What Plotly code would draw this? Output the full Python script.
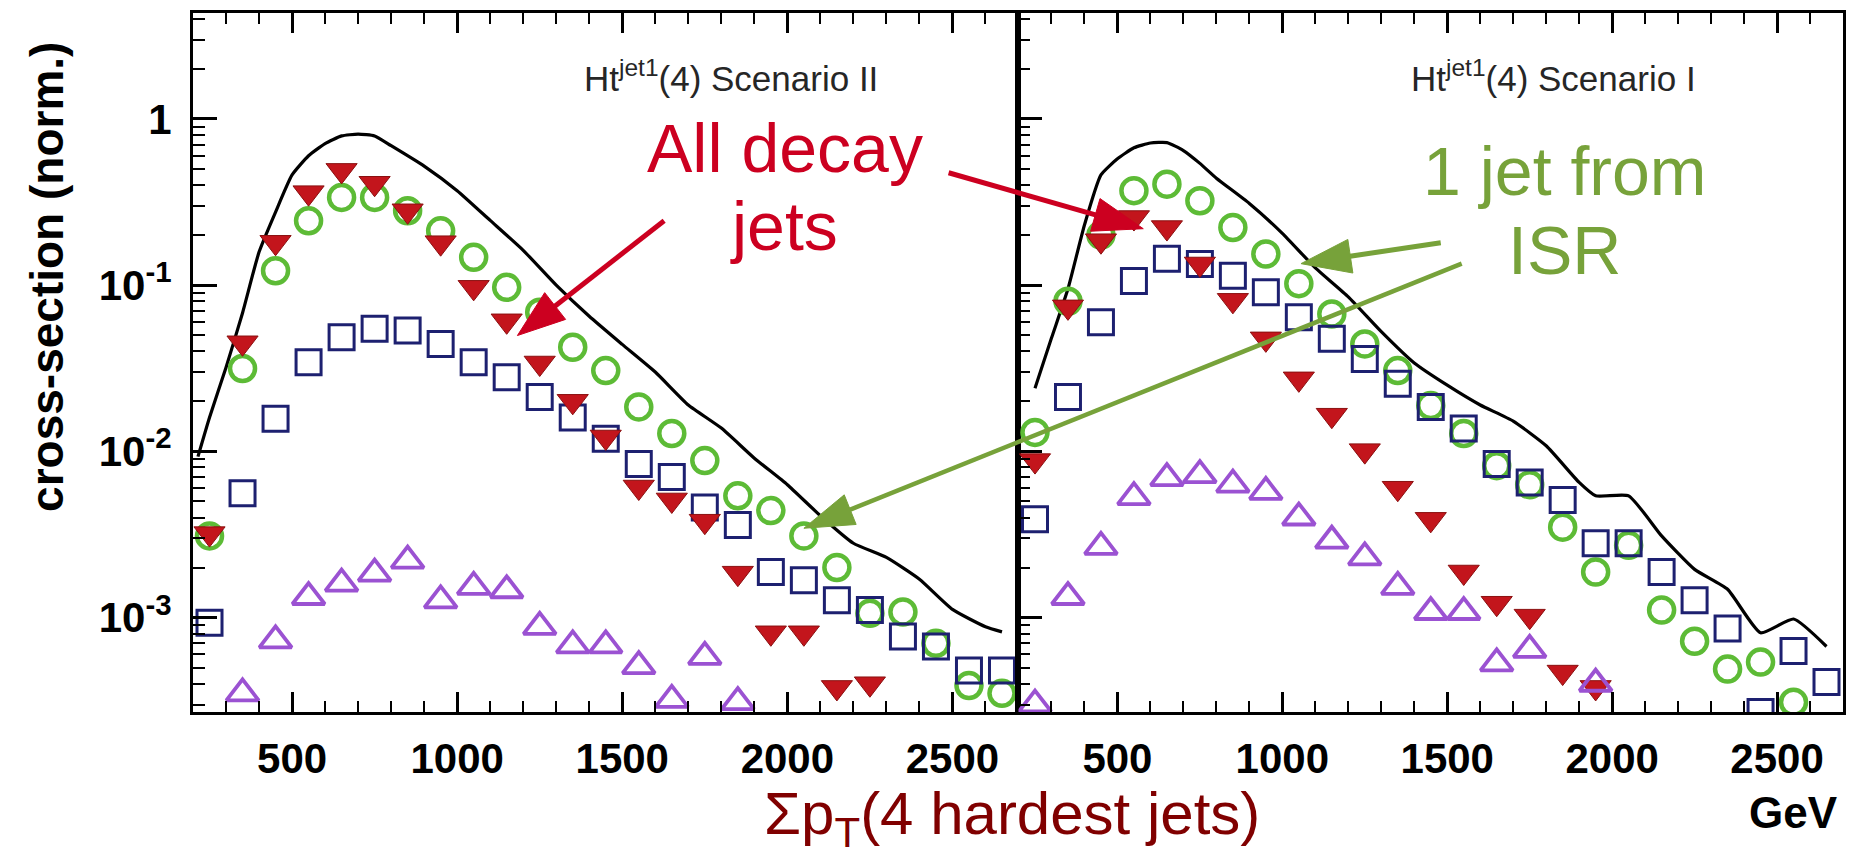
import math
import plotly.graph_objects as go

# ---------------- data ----------------
x_bins = [250, 350, 450, 550, 650, 750, 850, 950, 1050, 1150, 1250, 1350, 1450,
          1550, 1650, 1750, 1850, 1950, 2050, 2150, 2250, 2350, 2450, 2550, 2650]

# Left panel : Ht^jet1(4) Scenario II
isr_II = [0.0031, 0.0315, 0.122, 0.244, 0.337, 0.337, 0.28, 0.212, 0.147, 0.097, 0.0687, 0.0423, 0.0306,
          0.0185, 0.0128, 0.0088, 0.0054, 0.0044, 0.0031, 0.0020, 0.00106, 0.00108, 0.00070, 0.00039, 0.00035]
decay_II = [0.0032, 0.045, 0.181, 0.36, 0.49, 0.41, 0.28, 0.18, 0.097, 0.061, 0.034, 0.020, 0.0122,
            0.0061, 0.0051, 0.0038, 0.00185, 0.00081, 0.00081, 0.00038, 0.00040, None, None, None, None]
square_II = [0.00093, 0.0056, 0.0157, 0.0344, 0.0486, 0.0546, 0.0533, 0.0443, 0.0344, 0.0279, 0.0212, 0.0160, 0.0119,
             0.0084, 0.0070, 0.0046, 0.0036, 0.00188, 0.00168, 0.00127, 0.00111, 0.00077, 0.00067, 0.00048, 0.00048]
triangle_II = [None, 0.00035, 0.00073, 0.00133, 0.0016, 0.00184, 0.0022, 0.00127, 0.00153, 0.00146, 0.00088, 0.00068, 0.00068,
               0.00051, 0.00032, 0.00058, 0.00031, None, None, None, None, None, None, None, None]
curve_II_x = [215, 250, 300, 350, 400, 450, 500, 550, 600, 650, 700, 750, 800, 900, 1000, 1100, 1200, 1300,
              1400, 1500, 1600, 1700, 1800, 1900, 2000, 2100, 2200, 2300, 2400, 2500, 2600, 2650]
curve_II_y = [0.0093, 0.016, 0.032, 0.068, 0.158, 0.275, 0.46, 0.60, 0.71, 0.79, 0.81, 0.79, 0.69, 0.52, 0.37,
              0.245, 0.162, 0.10, 0.065, 0.044, 0.030, 0.019, 0.0138, 0.0091, 0.0063, 0.0041, 0.0028, 0.0023,
              0.0017, 0.00112, 0.00088, 0.00082]

# Right panel : Ht^jet1(4) Scenario I
isr_I = [0.013, 0.08, 0.2, 0.37, 0.405, 0.322, 0.222, 0.154, 0.102, 0.067, 0.0443, 0.0306, 0.0189,
         0.0128, 0.0082, 0.0063, 0.0035, 0.00188, 0.00272, 0.00111, 0.00072, 0.00049, 0.00054, 0.00031, None]
decay_I = [0.0088, 0.074, 0.185, 0.255, 0.222, 0.134, 0.081, 0.0475, 0.0273, 0.0165, 0.0101, 0.0060, 0.0039,
           0.00188, 0.00122, 0.00102, 0.00047, 0.00038, None, None, None, None, None, None, None]
square_I = [0.0039, 0.0212, 0.0598, 0.106, 0.144, 0.134, 0.114, 0.0905, 0.0641, 0.0475, 0.036, 0.0255, 0.0185,
            0.0137, 0.0084, 0.0065, 0.0051, 0.0028, 0.0028, 0.00188, 0.00127, 0.00086, 0.00027, 0.00063, 0.00041]
triangle_I = [0.0003, 0.00133, 0.00266, 0.0053, 0.0069, 0.0072, 0.0063, 0.0057, 0.0040, 0.0029, 0.0023, 0.00153, 0.00108,
              0.00108, 0.00053, 0.00064, None, 0.0004, None, None, None, None, None, None, None]
curve_I_x = [250, 300, 350, 400, 450, 500, 550, 600, 650, 700, 750, 800, 900, 1000, 1100, 1200, 1300, 1400,
             1500, 1600, 1700, 1800, 1900, 1950, 2050, 2150, 2250, 2350, 2450, 2550, 2650]
curve_I_y = [0.024, 0.048, 0.095, 0.23, 0.46, 0.575, 0.67, 0.716, 0.72, 0.645, 0.54, 0.44, 0.31, 0.205, 0.127,
             0.085, 0.0525, 0.034, 0.025, 0.019, 0.0152, 0.0108, 0.0065, 0.0054, 0.0054, 0.0031, 0.00195,
             0.00148, 0.00081, 0.00098, 0.00067]

x_ticks = [500, 1000, 1500, 2000, 2500]
y_ticks = [1e-3, 1e-2, 1e-1, 1]
y_tick_text = ["10<sup>-3</sup>", "10<sup>-2</sup>", "10<sup>-1</sup>", "1"]
panel_titles = ["Ht<sup>jet1</sup>(4) Scenario II", "Ht<sup>jet1</sup>(4) Scenario I"]

# ---------------- styles ----------------
FONT = "Liberation Sans, Arial, Helvetica, sans-serif"
GREEN = "#5DBB36"
NAVY = "#1D2070"
RED = "#C3151C"
PURPLE = "#9B52D2"
ANN_RED = "#CC0020"
ANN_GREEN = "#77A23A"
DARKRED = "#800000"

W, H = 1856, 858
ML, MR, MT, MB = 193, 10, 12, 146
PW, PH = W - ML - MR, H - MT - MB
SPLIT = (1020 - ML) / PW


def pxx(x):
    return (x - ML) / PW


def pxy(y):
    return (H - MB - y) / PH


fig = go.Figure()

panels = [
    ("x", "y", curve_II_x, curve_II_y, isr_II, square_II, decay_II, triangle_II),
    ("x2", "y2", curve_I_x, curve_I_y, isr_I, square_I, decay_I, triangle_I),
]
for xa, ya, cx, cy, g, s, r, p in panels:
    fig.add_trace(go.Scatter(x=cx, y=cy, mode="lines", xaxis=xa, yaxis=ya,
                             line=dict(color="black", width=3.2, shape="spline", smoothing=0.5)))
    fig.add_trace(go.Scatter(x=x_bins, y=g, mode="markers", xaxis=xa, yaxis=ya,
                             marker=dict(symbol="circle-open", size=25, color=GREEN,
                                         line=dict(width=4.5, color=GREEN))))
    fig.add_trace(go.Scatter(x=x_bins, y=s, mode="markers", xaxis=xa, yaxis=ya,
                             marker=dict(symbol="square-open", size=25, color=NAVY,
                                         line=dict(width=3, color=NAVY))))
    fig.add_trace(go.Scatter(x=x_bins, y=r, mode="markers", xaxis=xa, yaxis=ya,
                             marker=dict(symbol="triangle-down", size=27, color=RED,
                                         line=dict(width=1, color="#8A1010"))))
    fig.add_trace(go.Scatter(x=x_bins, y=p, mode="markers", xaxis=xa, yaxis=ya,
                             marker=dict(symbol="triangle-up-open", size=28, color=PURPLE,
                                         line=dict(width=3.8, color=PURPLE))))

minor_y = [k * 10.0 ** e for e in range(-4, 1) for k in range(2, 10)]

xaxis_common = dict(
    range=[200, 2700], showgrid=False, zeroline=False,
    showline=True, linecolor="black", linewidth=3, mirror="ticks",
    ticks="inside", ticklen=20, tickwidth=2.5, tickcolor="black",
    tickvals=x_ticks, ticktext=[str(v) for v in x_ticks],
    tickfont=dict(family=FONT, size=42, color="black", weight="bold"),
    ticklabelstandoff=8,
    minor=dict(dtick=100, tick0=0, ticks="inside", ticklen=11, tickwidth=2, tickcolor="black", showgrid=False),
)
yaxis_common = dict(
    type="log", range=[-3.568, 0.637], domain=[0, 1], showgrid=False, zeroline=False,
    showline=True, linecolor="black", linewidth=3, mirror=True,
    ticks="inside", ticklen=24, tickwidth=2.5, tickcolor="black",
    tickvals=y_ticks, ticktext=y_tick_text,
    tickfont=dict(family=FONT, size=42, color="black", weight="bold"),
    ticklabelstandoff=10,
    minor=dict(tickvals=minor_y, ticks="inside", ticklen=12, tickwidth=2, tickcolor="black", showgrid=False),
)

fig.update_layout(
    width=W, height=H,
    margin=dict(l=ML, r=MR, t=MT, b=MB, pad=0),
    paper_bgcolor="white", plot_bgcolor="white",
    showlegend=False,
    xaxis=dict(domain=[0, SPLIT], anchor="y", **xaxis_common),
    xaxis2=dict(domain=[SPLIT, 1], anchor="y2", **xaxis_common),
    yaxis=dict(anchor="x", **yaxis_common),
    yaxis2=dict(anchor="x2", showticklabels=False, **yaxis_common),
)

annotations = []
shapes = []


def add_text(text, x, y, size, color, weight="normal", angle=0):
    annotations.append(dict(text=text, x=pxx(x), y=pxy(y), xref="paper", yref="paper",
                            xanchor="center", yanchor="middle", showarrow=False, textangle=angle,
                            font=dict(family=FONT, size=size, color=color, weight=weight)))


def add_arrow(tip, tail, color, width, head_len, head_half):
    dx, dy = tip[0] - tail[0], tip[1] - tail[1]
    n = math.hypot(dx, dy)
    ux, uy = dx / n, dy / n
    bx, by = tip[0] - ux * head_len, tip[1] - uy * head_len
    # shaft
    shapes.append(dict(type="line", xref="paper", yref="paper",
                       x0=pxx(tail[0]), y0=pxy(tail[1]), x1=pxx(bx + ux * 2), y1=pxy(by + uy * 2),
                       line=dict(color=color, width=width)))
    # head
    p1 = (bx - uy * head_half, by + ux * head_half)
    p2 = (bx + uy * head_half, by - ux * head_half)
    path = "M {:.5f},{:.5f} L {:.5f},{:.5f} L {:.5f},{:.5f} Z".format(
        pxx(tip[0]), pxy(tip[1]), pxx(p1[0]), pxy(p1[1]), pxx(p2[0]), pxy(p2[1]))
    shapes.append(dict(type="path", xref="paper", yref="paper", path=path,
                       fillcolor=color, line=dict(color=color, width=1)))


add_text(panel_titles[0], 732, 75, 35, "#262626")
add_text(panel_titles[1], 1556, 75, 35, "#262626")
add_text("All decay", 786, 147, 68, ANN_RED)
add_text("jets", 785, 225, 68, ANN_RED)
add_text("1 jet from", 1567, 170, 68, ANN_GREEN)
add_text("ISR", 1567, 249, 68, ANN_GREEN)
add_text("Σp<sub>T</sub>(4 hardest jets)", 1013, 818, 60, DARKRED)
add_text("GeV", 1796, 813, 44, "black", weight="bold")
add_text("cross-section (norm.)", 46, 276, 46, "black", weight="bold", angle=-90)

add_arrow((518, 335), (665, 220), ANN_RED, 5, 48, 17)
add_arrow((1145, 228), (950, 172), ANN_RED, 5, 50, 17)
add_arrow((1303, 263), (1443, 242), ANN_GREEN, 5, 50, 17)
add_arrow((805, 528), (1464, 263), ANN_GREEN, 4.5, 50, 16)

fig.update_layout(annotations=annotations, shapes=shapes)

fig.write_html("out.html")
